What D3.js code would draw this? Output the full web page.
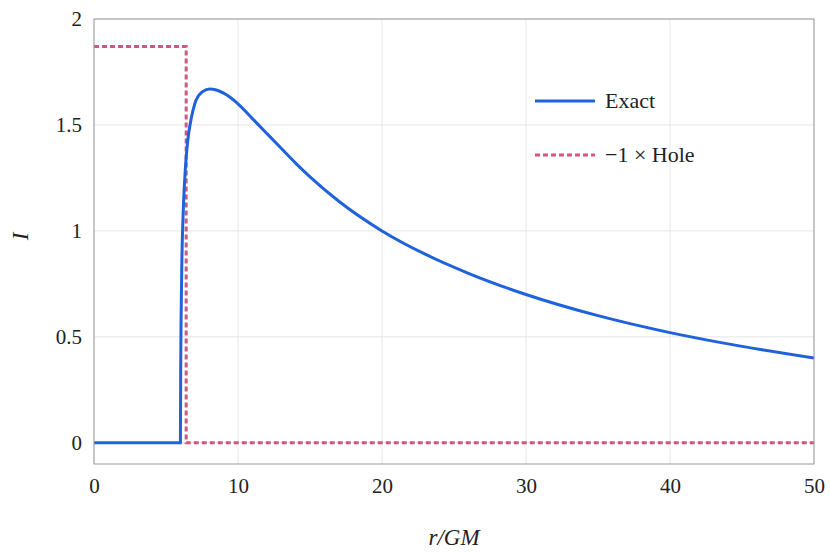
<!DOCTYPE html>
<html><head><meta charset="utf-8">
<script src="https://cdn.jsdelivr.net/npm/d3@7"></script>
<style>body{margin:0;background:#fff}text{font-family:"Liberation Serif","DejaVu Serif",serif;fill:#222}</style>
</head><body>
<script>
var exactR = [0, 5.99, 6.0, 6.02, 6.05, 6.1, 6.2, 6.35, 6.5, 6.75, 7, 7.5, 8, 8.5, 9, 10, 11, 12, 13, 14, 15, 17, 20, 23, 26, 30, 35, 40, 45, 50];
var exactI = [0, 0, 0, 0.35, 0.6, 0.85, 1.1, 1.3, 1.42, 1.53, 1.6, 1.655, 1.67, 1.665, 1.65, 1.6, 1.53, 1.46, 1.39, 1.32, 1.255, 1.14, 1.0, 0.89, 0.8, 0.7, 0.6, 0.52, 0.455, 0.40];
var holeR = [0, 6.4, 6.4, 50];
var holeI = [1.87, 1.87, 0, 0];
var xTicks = [0, 10, 20, 30, 40, 50];
var yTicks = [0, 0.5, 1, 1.5, 2];
var yLabels = ["0", "0.5", "1", "1.5", "2"];
var legendNames = ["Exact", "\u22121 \u00d7 Hole"];

var W = 830, H = 558, L = 94, R = 814, T = 19, B = 464;
var svg = d3.select("body").append("svg").attr("width", W).attr("height", H);
var x = d3.scaleLinear().domain([0, 50]).range([L, R]);
var y = d3.scaleLinear().domain([-0.1, 2]).range([B, T]);

// grid
svg.selectAll("line.gx").data(xTicks).enter().append("line")
  .attr("x1", d => x(d)).attr("x2", d => x(d)).attr("y1", T).attr("y2", B)
  .attr("stroke", "#e6e6e6");
svg.selectAll("line.gy").data(yTicks).enter().append("line")
  .attr("x1", L).attr("x2", R).attr("y1", d => y(d)).attr("y2", d => y(d))
  .attr("stroke", "#e6e6e6");

var line = d3.line().x(d => x(d[0])).y(d => y(d[1]));
svg.append("path").attr("d", line(d3.zip(holeR, holeI)))
  .attr("fill", "none").attr("stroke", "#d0587c").attr("stroke-width", 3).attr("stroke-dasharray", "5,3");
svg.append("path").attr("d", line.curve(d3.curveMonotoneX)(d3.zip(exactR, exactI)))
  .attr("fill", "none").attr("stroke", "#1f62dc").attr("stroke-width", 3);

svg.append("rect").attr("x", L).attr("y", T).attr("width", R - L).attr("height", B - T)
  .attr("fill", "none").attr("stroke", "#999");

var xa = svg.append("g").attr("transform", "translate(0," + B + ")")
  .call(d3.axisBottom(x).tickValues(xTicks).tickSize(0).tickPadding(14));
var ya = svg.append("g").attr("transform", "translate(" + L + ",0)")
  .call(d3.axisLeft(y).tickValues(yTicks).tickFormat((d, i) => yLabels[i]).tickSize(0).tickPadding(12));
[xa, ya].forEach(g => { g.select(".domain").remove(); g.selectAll("text").style("font-size", "21px").style("font-family", "Liberation Serif"); });

svg.append("text").attr("x", (L + R) / 2).attr("y", 545).attr("text-anchor", "middle")
  .style("font-size", "23px").style("font-style", "italic").text("r/GM");
svg.append("text").attr("transform", "translate(28," + ((T + B) / 2 - 5) + ") rotate(-90)").attr("text-anchor", "middle")
  .style("font-size", "23px").style("font-style", "italic").text("I");

var lg = svg.selectAll("g.lg").data(legendNames).enter().append("g")
  .attr("transform", (d, i) => "translate(535," + (101 + i * 54) + ")");
lg.append("line").attr("x1", 0).attr("x2", 60)
  .attr("stroke", (d, i) => i ? "#d0587c" : "#1f62dc").attr("stroke-width", 3)
  .attr("stroke-dasharray", (d, i) => i ? "5,3" : null);
lg.append("text").attr("x", 70).attr("y", 7).style("font-size", "22px").text(d => d);
</script>
</body></html>
